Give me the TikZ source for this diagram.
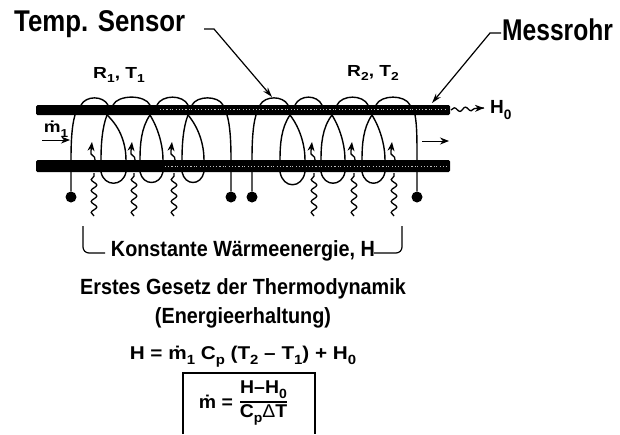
\documentclass[tikz,border=0pt]{standalone}
\usepackage{fontspec}
\usepackage{graphicx}
\setmainfont{Liberation Sans}
\usetikzlibrary{decorations.pathmorphing,arrows.meta}
\newcommand{\lowr}[1]{\raisebox{-0.28em}{\scalebox{0.72}{#1}}}
\newcommand{\sx}[2]{\scalebox{#1}[1]{#2}}
\tikzset{
  pipe/.style={fill=black,rounded corners=1.5pt,draw=none},
  speck/.style={white!75!black,line width=0.7pt,dash pattern=on 1pt off 1.5pt on .6pt off 3pt on 1.5pt off 2pt},
  coil/.style={black,line width=1.4pt},
  lead/.style={black,line width=1.4pt},
  dotend/.style={circle,fill=black,inner sep=0pt,minimum size=11pt},
  wave/.style={black,line width=1.3pt,decorate,decoration={snake,amplitude=2.8pt,segment length=11pt}},
  tipp/.style={-{Stealth[length=9pt,width=7pt]}},
  call/.style={black,line width=1.2pt,-{Stealth[length=10pt,width=6pt]}},
  big/.style={font=\fontsize{30}{32}\selectfont\bfseries,inner sep=0pt},
  mid/.style={font=\fontsize{22}{24}\selectfont\bfseries,inner sep=0pt},
  sym/.style={font=\fontsize{16}{18}\selectfont\bfseries,inner sep=0pt},
  eqn/.style={font=\fontsize{18.5}{20}\selectfont\bfseries,inner sep=0pt}
}
\newcommand{\eye}[4]{% apex x, left x, right x, bottom y
  \draw[coil] (#1,115) .. controls (#2+1,128) and (#2,145) .. (#2,160);
  \draw[coil] (#1,115) .. controls (#3-5,128) and (#3,145) .. (#3,160);
  \draw[coil] (#2,172) .. controls (#2+3,#4) and (#3-3,#4) .. (#3,172);
}
\newcommand{\arcc}[3]{\draw[coil] (#1,105) .. controls (#1+5,#3-2.5) and (#2-5,#3-2.5) .. (#2,105);}
\begin{document}
\begin{tikzpicture}[x=1pt,y=-1pt]
\useasboundingbox (0,0) rectangle (620,434);
% leads and coils
\node[dotend] (d1) at (71,197) {};
\node[dotend] (d2) at (231,197) {};
\node[dotend] (d3) at (252,197) {};
\node[dotend] (d4) at (417,197) {};
\draw[lead] (d1) -- (71,160) .. controls (71,140) and (72,125) .. (75,115);
\draw[lead] (d2) -- (231,160) .. controls (231,140) and (230,125) .. (227,115);
\draw[lead] (d3) -- (252,160) .. controls (252,140) and (253,125) .. (256,115);
\draw[lead] (d4) -- (417,160) .. controls (417,140) and (417,125) .. (415,115);
\eye{107}{101}{126}{187}
\eye{150}{140}{163}{186}
\eye{188}{182}{204}{186}
\eye{290}{280}{305}{189}
\eye{332}{321}{345}{187}
\eye{372}{362}{385}{187}
\arcc{81}{108}{98}
\arcc{113}{150}{97}
\arcc{157}{188}{97}
\arcc{192}{223}{98}
\arcc{260}{288}{98}
\arcc{295}{322}{97}
\arcc{337}{368}{97}
\arcc{376}{410}{97}
% pipes
\path[pipe] (36,105) rectangle (450,115);
\path[pipe] (36,160) rectangle (450,172);
\draw[speck] (160,109) -- (448,109);
\draw[speck] (165,166) -- (448,166);
% heat waves
\foreach \x in {93,133,173,313,353,393}{
  \draw[wave] (\x+1,216) -- (\x+1,173);
  \draw[line width=1.3pt,tipp] (\x+2,160) .. controls (\x+3,155) and (\x-4,156) .. (\x-2,151) -- (\x-1,142);
}
\coordinate (h0a) at (451,110);
\coordinate (h0b) at (484,108);
\draw[wave,decoration={snake,amplitude=2pt,segment length=11pt,post length=7pt}] (h0a) -- (h0b);
\draw[tipp,line width=1.2pt] (476,108.3) -- (h0b);
\node[font=\fontsize{19}{20}\selectfont\bfseries,inner sep=0pt,anchor=west] (h0) at (490,110) {H\lowr{0}};
% flow arrows
\coordinate (fa) at (42,140); \coordinate (fb) at (70,140);
\draw[tipp,line width=.9pt] (fa) -- (fb);
\coordinate (ga) at (422,141); \coordinate (gb) at (449,141);
\draw[tipp,line width=.9pt] (ga) -- (gb);
\node[sym,anchor=center] (m1) at (56,129) {\sx{1.18}{\.m\lowr{1}}};
% labels
\node[sym,anchor=west] (r1) at (93,75) {\sx{1.2}{R\lowr{1}, T\lowr{1}}};
\node[sym,anchor=west] (r2) at (347,73) {\sx{1.2}{R\lowr{2}, T\lowr{2}}};
\node[big,anchor=west] (ts) at (14,24) {\sx{.86}{Temp. Sensor}};
\node[big,anchor=west] (mr) at (502,30) {\sx{.82}{Messrohr}};
\coordinate (tsa) at (204,29); \coordinate (tsb) at (214,29); \coordinate (tsc) at (272,97);
\draw[call] (tsa) -- (tsb) -- (tsc);
\coordinate (mra) at (501,33); \coordinate (mrb) at (490,33); \coordinate (mrc) at (432,103);
\draw[call] (mra) -- (mrb) -- (mrc);
% bracket
\node[mid,anchor=center] (kw) at (243,251) {\sx{.9}{Konstante Wärmeenergie, H}};
\coordinate (bl) at (83,226); \coordinate (br) at (402,226);
\draw[line width=1.2pt,rounded corners=6pt] (bl) -- (83,253) -- (105,253);
\draw[line width=1.2pt,rounded corners=6pt] (br) -- (402,253) -- (374,253);
\node[mid,anchor=center] (e1) at (243,289) {\sx{.9}{Erstes Gesetz der Thermodynamik}};
\node[mid,anchor=center] (e2) at (243,318) {\sx{.9}{(Energieerhaltung)}};
\node[eqn,anchor=center] (eq) at (243,357) {\sx{1.12}{H = \.m\lowr{1} C\lowr{p} (T\lowr{2} – T\lowr{1}) + H\lowr{0}}};
% result box (cut off at the lower edge)
\coordinate (b1) at (183,434); \coordinate (b2) at (183,373); \coordinate (b3) at (315,373); \coordinate (b4) at (315,434);
\draw[line width=1.2pt] (b1) -- (b2) -- (b3) -- (b4);
\node[eqn,anchor=center] (md) at (216,402) {\sx{1.05}{\.m =}};
\node[eqn,anchor=center] (nu) at (263.5,390) {\sx{1.05}{H–H\lowr{0}}};
\node[eqn,anchor=center] (de) at (263.5,415) {\sx{1.05}{C\lowr{p}{\mdseries Δ}T}};
\coordinate (ra) at (240,402); \coordinate (rb) at (287,402);
\draw[line width=1.4pt] (ra) -- (rb);
\end{tikzpicture}
\end{document}
